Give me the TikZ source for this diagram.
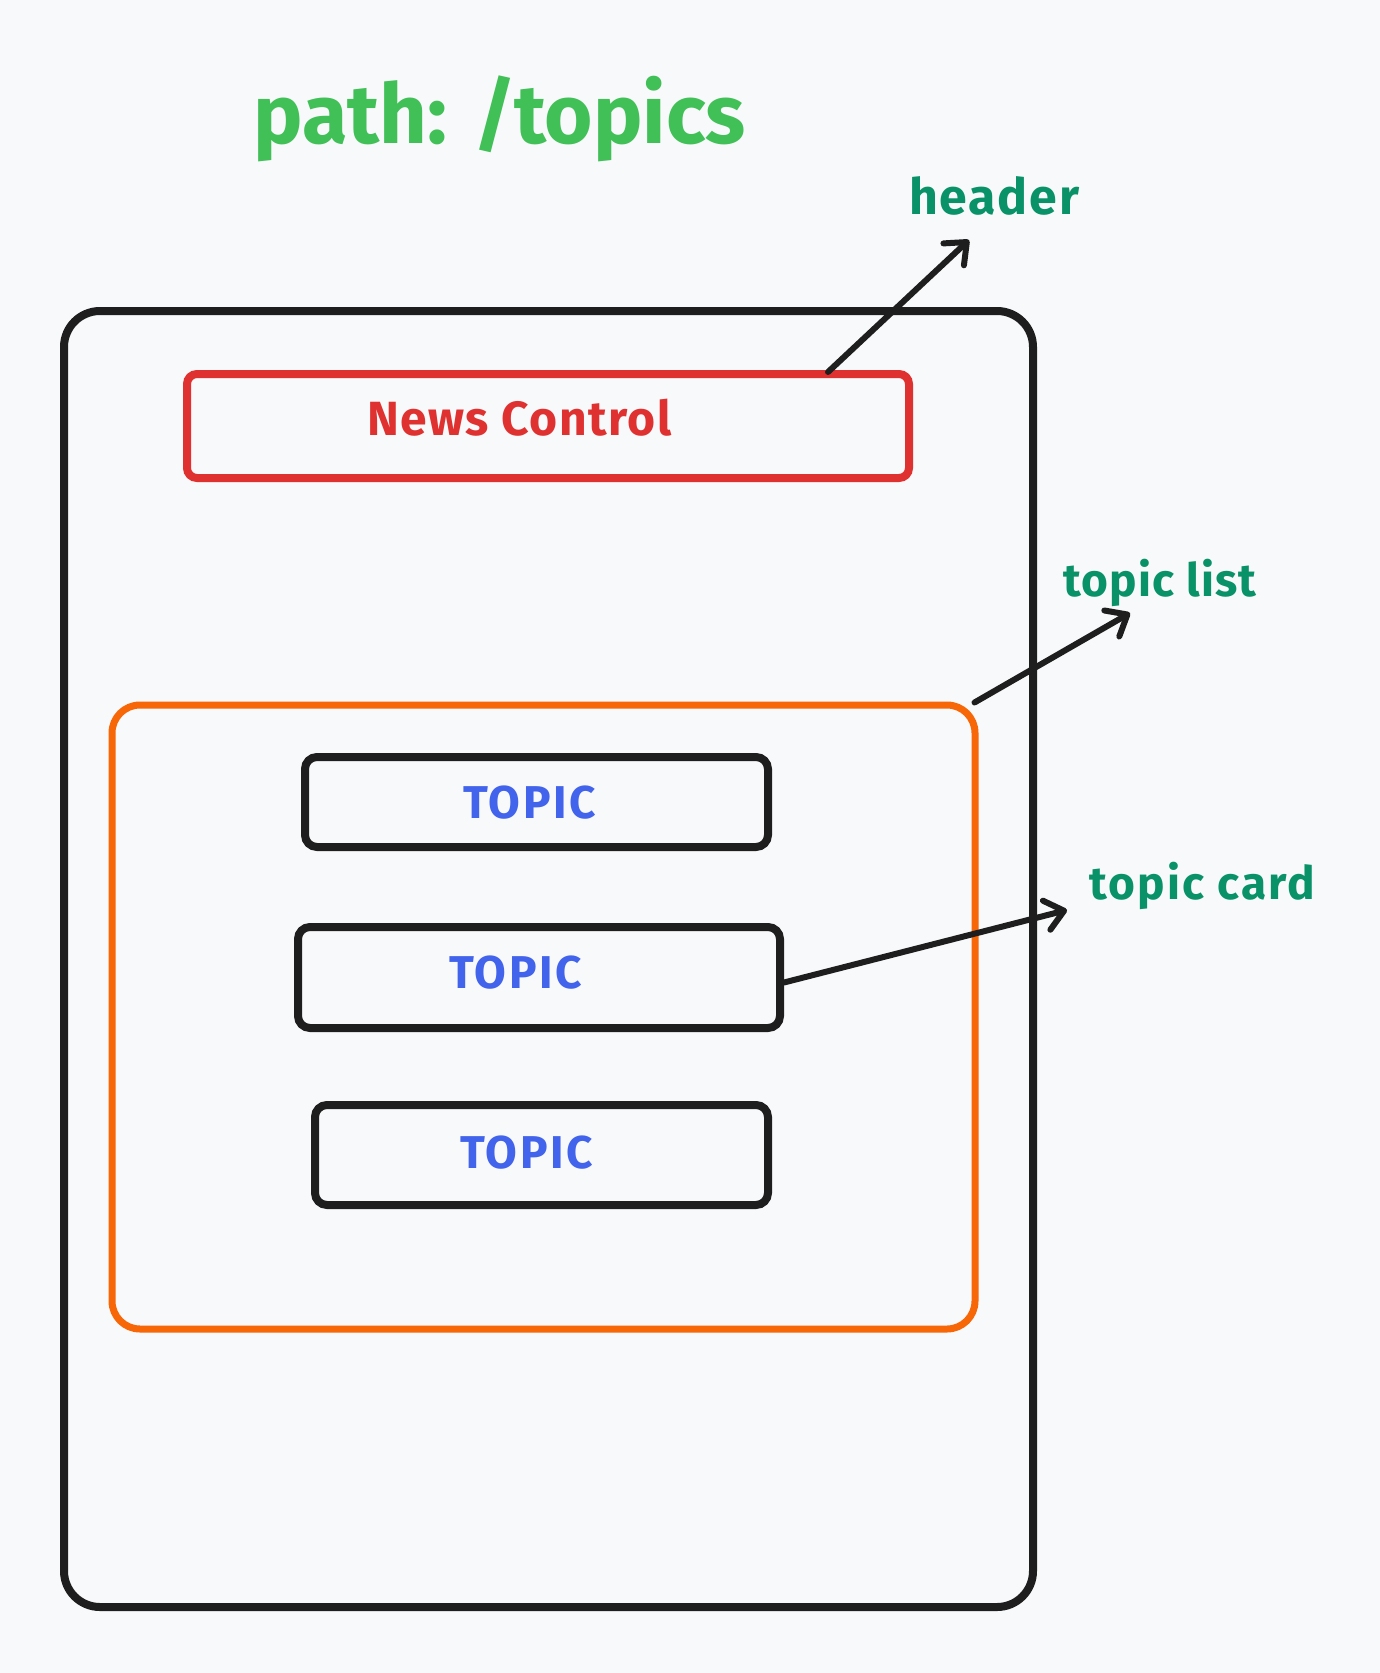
\documentclass[tikz,border=0pt]{standalone}
\usepackage{fontspec}
\setmainfont{Fira Sans}
\usetikzlibrary{arrows.meta}
\definecolor{bgc}{HTML}{F8F9FA}
\definecolor{inkc}{HTML}{1E1E1E}
\definecolor{titlec}{HTML}{40C057}
\definecolor{notec}{HTML}{099268}
\definecolor{redc}{HTML}{E03131}
\definecolor{orangec}{HTML}{F76707}
\definecolor{bluec}{HTML}{4263EB}
\newcommand{\lblfont}[2]{\bfseries\fontsize{#1}{#1}\selectfont\addfontfeatures{LetterSpace=#2}}
\tikzset{
  box/.style={draw=inkc, line width=8pt, rounded corners=#1, inner sep=0pt},
  box/.default=12pt,
  lbl/.style={inner sep=0pt, anchor=base west},
  conn/.style={draw=inkc, line width=6pt, line cap=round,
    -{Straight Barb[length=18pt, width=30pt, line cap=round, line join=round]}},
}
\begin{document}
\begin{tikzpicture}[x=1pt, y=-1pt]
\fill[bgc] (0,0) rectangle (1380,1673);
\useasboundingbox (0,0) rectangle (1380,1673);
% title
\node[lbl, text=titlec, font=\lblfont{83}{0}] (title) at (253,143) {path: /topics};
% outer frame
\draw[box=36pt] (64,311) rectangle (1033,1607);
% header bar
\node[box=10pt, draw=redc, minimum width=722pt, minimum height=104pt] (news) at (548,426) {};
\node[lbl, text=redc, font=\lblfont{48}{3}] (newstxt) at (367,435) {News Control};
% topic list frame
\node[box=28pt, draw=orangec, line width=7pt, minimum width=863pt, minimum height=624pt] (list) at (543.5,1017) {};
% topic cards
\node[box, minimum width=463pt, minimum height=90pt] (t1) at (536.5,802) {};
\node[box, minimum width=482pt, minimum height=101pt] (t2) at (539,977.5) {};
\node[box, minimum width=453pt, minimum height=100pt] (t3) at (541.5,1155) {};
\node[lbl, text=bluec, font=\lblfont{46}{5.5}] (t1txt) at (463,818) {TOPIC};
\node[lbl, text=bluec, font=\lblfont{46}{5.5}] (t2txt) at (449,988) {TOPIC};
\node[lbl, text=bluec, font=\lblfont{46}{5.5}] (t3txt) at (460,1168) {TOPIC};
% annotation labels
\node[lbl, text=notec, font=\lblfont{50}{3.6}] (hdr) at (909,214) {header};
\node[lbl, text=notec, font=\lblfont{46}{2.6}] (tlist) at (1063,596) {topic list};
\node[lbl, text=notec, font=\lblfont{46}{4.8}] (tcard) at (1089,899) {topic card};
% arrow tips
\coordinate (hdrtip) at (969,240);
\coordinate (listtip) at (1130,613);
\coordinate (cardtip) at (1067,910);
% connectors
\draw[conn] ([xshift=-85pt,yshift=-2pt]news.north east) -- (hdrtip);
\draw[conn] ([xshift=-4pt,yshift=-1pt]list.north east) -- (listtip);
\draw[conn] ([yshift=-5pt]t2.east) -- (cardtip);
\end{tikzpicture}
\end{document}
